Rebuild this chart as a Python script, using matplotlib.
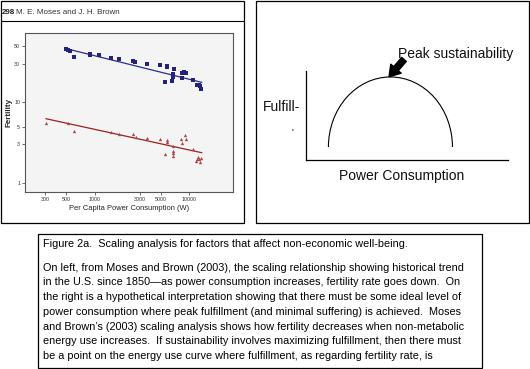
import matplotlib
matplotlib.use("Agg")
import matplotlib.pyplot as plt
from matplotlib.patches import Rectangle, Arc

plt.rcParams['font.family'] = ['Liberation Sans', 'DejaVu Sans']

# ---------------- data ----------------
power_blue = [500, 520, 545, 610, 890, 900, 1120, 1500, 1830, 2530, 2700, 3600,
              4950, 5850, 5900, 6880, 5500, 6700, 6700, 6650, 8360, 8900, 9210,
              8470, 11090, 12040, 12640, 13050, 13470]
fert_blue = [46, 45, 44, 37, 39.5, 38.5, 38.5, 35.5, 34.5, 32.5, 32, 29.7,
             29, 28.3, 27.5, 26, 18, 22.5, 20.5, 18.6, 23.3, 23.8, 22.9,
             19.9, 18.8, 16.6, 16.3, 15.9, 14.5]

power_red = [307, 520, 600, 1480, 1830, 2530, 2730, 3600, 4950, 5900, 5900,
             5560, 6710, 6710, 6710, 6830, 8300, 8470, 9030, 9270, 11090,
             11770, 12040, 12530, 12830, 13050, 13370]
fert_red = [5.6, 5.5, 4.4, 4.3, 4.0, 4.0, 3.7, 3.6, 3.5, 3.35, 3.2,
            2.27, 2.48, 2.32, 2.17, 2.89, 3.53, 3.09, 3.89, 3.46, 2.65,
            1.86, 1.97, 2.11, 1.97, 1.82, 2.05]

fit_blue_x = [520, 13600]
fit_blue_y = [46, 17.7]
fit_red_x = [307, 13600]
fit_red_y = [6.25, 2.36]

x_ticks = [300, 500, 1000, 3000, 5000, 10000]
x_tick_labels = ['300', '500', '1000', '3000', '5000', '10000']
y_ticks = [1, 3, 5, 10, 30, 50]
y_tick_labels = ['1', '3', '5', '10', '30', '50']

header_text = "M. E. Moses and J. H. Brown"
caption_title = "Figure 2a.  Scaling analysis for factors that affect non-economic well-being."
caption_lines = [
    "On left, from Moses and Brown (2003), the scaling relationship showing historical trend",
    "in the U.S. since 1850\u2014as power consumption increases, fertility rate goes down.  On",
    "the right is a hypothetical interpretation showing that there must be some ideal level of",
    "power consumption where peak fulfillment (and minimal suffering) is achieved.  Moses",
    "and Brown\u2019s (2003) scaling analysis shows how fertility decreases when non-metabolic",
    "energy use increases.  If sustainability involves maximizing fulfillment, then there must",
    "be a point on the energy use curve where fulfillment, as regarding fertility rate, is",
]

# ---------------- figure ----------------
W, H = 530, 369
fig = plt.figure(figsize=(W / 100, H / 100), dpi=100)
fig.patch.set_facecolor('white')

bg = fig.add_axes([0, 0, 1, 1])
bg.set_xlim(0, W)
bg.set_ylim(H, 0)
bg.axis('off')

# boxes
bg.add_patch(Rectangle((0.5, 0.5), 243, 222, fill=False, ec='black', lw=0.9))
bg.plot([0.5, 243.5], [20.5, 20.5], color='black', lw=0.8)
bg.add_patch(Rectangle((255.5, 0.5), 273, 222, fill=False, ec='black', lw=0.9))
bg.add_patch(Rectangle((37.5, 233.5), 444.5, 134.5, fill=False, ec='black', lw=0.9))

# header of left panel
bg.text(2, 12, "298", fontsize=5.8, fontweight='bold', color='#222222', va='center', ha='left')
bg.text(16, 12, header_text, fontsize=5.8, color='#333333', va='center', ha='left')

# caption
cap_fs = 7.85
bg.text(43, 244.3, caption_title, fontsize=cap_fs, color='black', va='center', ha='left')
for i, line in enumerate(caption_lines):
    bg.text(43, 267.7 + i * 14.7, line, fontsize=cap_fs, color='black', va='center', ha='left')

# ---------------- left chart ----------------
axL = fig.add_axes([25 / W, 1 - 192 / H, 208 / W, 159 / H])
axL.set_facecolor('#f4f4f4')
axL.set_xscale('log')
axL.set_yscale('log')
axL.set_xlim(184, 29100)
axL.set_ylim(0.766, 72.8)

axL.plot(fit_blue_x, fit_blue_y, color='#2c2c8c', lw=0.9, zorder=3)
axL.plot(fit_red_x, fit_red_y, color='#9a2222', lw=0.9, zorder=3)
axL.plot(power_blue, fert_blue, ls='none', marker='s', ms=2.4, mew=0, color='#23237e', zorder=4)
axL.plot(power_red, fert_red, ls='none', marker='^', ms=2.4, mew=0, color='#b04545', zorder=4)

axL.set_xticks(x_ticks)
axL.set_xticklabels(x_tick_labels)
axL.set_yticks(y_ticks)
axL.set_yticklabels(y_tick_labels)
axL.minorticks_off()
axL.tick_params(axis='both', labelsize=3.8, length=2, width=0.5, pad=1.5, colors='#333333')
for s in axL.spines.values():
    s.set_color('#555555')
    s.set_linewidth(0.8)
axL.set_xlabel("Per Capita Power Consumption (W)", fontsize=5.4, color='#222222', labelpad=2.5)
axL.set_ylabel("Fertility", fontsize=5.8, fontweight='bold', color='#222222', labelpad=1.5)

# ---------------- right diagram ----------------
axR = fig.add_axes([306 / W, 1 - 160 / H, 202 / W, 89 / H])
axR.set_xlim(0, 1)
axR.set_ylim(0, 1)
axR.set_facecolor('none')
axR.spines['top'].set_visible(False)
axR.spines['right'].set_visible(False)
axR.spines['left'].set_linewidth(0.9)
axR.spines['bottom'].set_linewidth(0.9)
axR.set_xticks([])
axR.set_yticks([])

arc_center = (0.418, 0.146)
arc_width = 0.614
arc_height = 1.574
axR.add_patch(Arc(arc_center, arc_width, arc_height, theta1=0, theta2=180,
                  color='black', lw=0.8, clip_on=False))

axR.annotate('', xy=(0.411, 0.935), xytext=(0.485, 1.13),
             xycoords='data', textcoords='data', annotation_clip=False,
             arrowprops=dict(arrowstyle='simple,head_length=0.7,head_width=0.9,tail_width=0.4',
                             fc='black', ec='black', mutation_scale=11, shrinkA=0, shrinkB=0))

bg.text(398, 54, "Peak sustainability", fontsize=10, color='#111111', va='center', ha='left')
bg.text(263, 107, "Fulfill-", fontsize=10, color='#111111', va='center', ha='left')
bg.text(291, 127, ".", fontsize=10, color='#3a5a9a', va='center', ha='left')
bg.text(402, 176, "Power Consumption", fontsize=10, color='#111111', va='center', ha='center')

fig.savefig("out.png", dpi=100)
